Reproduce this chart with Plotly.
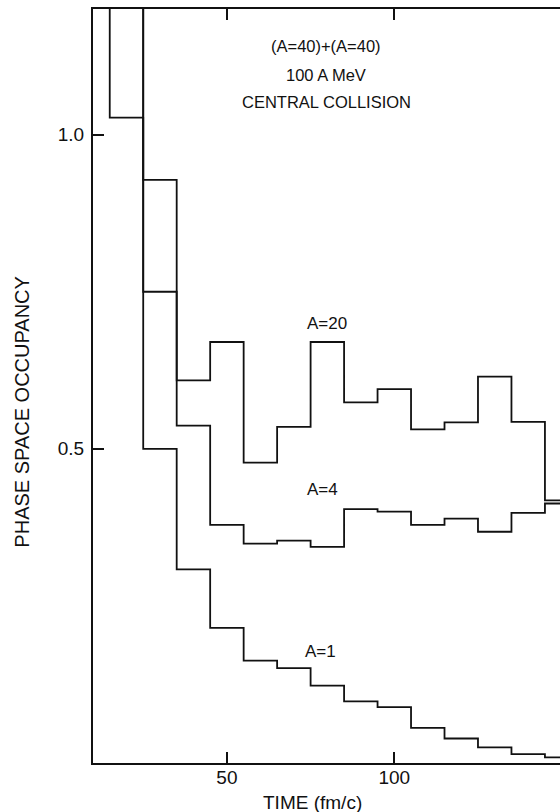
import plotly.graph_objects as go

# Time bins (fm/c): left edges of each 10 fm/c bin, plus the final right edge
bin_edges = [5, 15, 25, 35, 45, 55, 65, 75, 85, 95, 105, 115, 125, 135, 145, 155]

# Phase space occupancy per bin for each fragment size
# (the earliest bins lie above the plotted range and are clipped)
occ_a1 = [1.45, 1.027, 0.500, 0.308, 0.215, 0.163, 0.151, 0.123, 0.098, 0.089,
          0.056, 0.039, 0.025, 0.014, 0.009]
occ_a4 = [2.00, 1.60, 0.750, 0.537, 0.379, 0.349, 0.354, 0.344, 0.404, 0.400,
          0.379, 0.389, 0.368, 0.398, 0.413]
occ_a20 = [2.40, 1.90, 0.928, 0.609, 0.670, 0.478, 0.535, 0.670, 0.574, 0.595,
           0.531, 0.542, 0.615, 0.543, 0.418]

series_labels = ["A=1", "A=4", "A=20"]
label_pos = [(78.1, 0.178), (78.7, 0.435), (79.8, 0.700)]

x_ticks = [50, 100]
x_ticktext = ["50", "100"]
y_ticks = [0.5, 1.0]
y_ticktext = ["0.5", "1.0"]

header_lines = ["(A=40)+(A=40)", "100 A MeV", "CENTRAL COLLISION"]
header_y = [0.951, 0.913, 0.876]

FONT = "Liberation Sans, Arial, Helvetica, sans-serif"
INK = "#111111"

fig = go.Figure()

for vals in (occ_a1, occ_a4, occ_a20):
    # step outline: each value held across its bin, closed at the last edge
    xs = bin_edges[:]
    ys = vals + [vals[-1]]
    fig.add_trace(go.Scatter(
        x=xs, y=ys, mode="lines", line=dict(shape="hv", color=INK, width=1.8),
        showlegend=False, hoverinfo="skip",
    ))

for text, (lx, ly) in zip(series_labels, label_pos):
    fig.add_annotation(x=lx, y=ly, xref="x", yref="y", text=text,
                       xanchor="center", yanchor="middle", showarrow=False,
                       font=dict(family=FONT, size=17, color=INK))

for line, hy in zip(header_lines, header_y):
    fig.add_annotation(x=0.499, y=hy, xref="paper", yref="paper",
                       text=line, xanchor="center", yanchor="middle",
                       showarrow=False, font=dict(family=FONT, size=16.5, color=INK))

# axis titles
fig.add_annotation(x=0.469, y=-0.053, xref="paper", yref="paper",
                   text="TIME (fm/c)", xanchor="center", yanchor="middle",
                   showarrow=False, font=dict(family=FONT, size=19, color=INK))
fig.add_annotation(x=-0.152, y=0.466, xref="paper", yref="paper",
                   text="PHASE SPACE OCCUPANCY", textangle=-90,
                   xanchor="center", yanchor="middle", showarrow=False,
                   font=dict(family=FONT, size=20, color=INK))

fig.update_layout(
    width=560, height=812,
    margin=dict(l=93, r=0, t=9, b=49),
    paper_bgcolor="white", plot_bgcolor="white",
    font=dict(family=FONT, size=16, color=INK),
    xaxis=dict(
        range=[10, 149.5], tickvals=x_ticks, ticktext=x_ticktext,
        ticks="inside", ticklen=11, tickwidth=1.5, tickcolor=INK,
        showline=True, linewidth=2, linecolor=INK, mirror="ticks",
        showgrid=False, zeroline=False, ticklabelstandoff=-4,
        tickfont=dict(family=FONT, size=19, color=INK),
    ),
    yaxis=dict(
        range=[0, 1.2], tickvals=y_ticks, ticktext=y_ticktext,
        ticks="inside", ticklen=11, tickwidth=1.5, tickcolor=INK,
        showline=True, linewidth=2, linecolor=INK,
        showgrid=False, zeroline=False, ticklabelstandoff=3,
        tickfont=dict(family=FONT, size=19, color=INK),
    ),
    yaxis2=dict(
        overlaying="y", side="right", anchor="x", matches="y",
        range=[0, 1.2], tickvals=y_ticks, ticks="inside", ticklen=9,
        tickwidth=1.5, tickcolor=INK, showticklabels=False,
        showline=False, showgrid=False, zeroline=False,
    ),
)

fig.write_html("out.html")
